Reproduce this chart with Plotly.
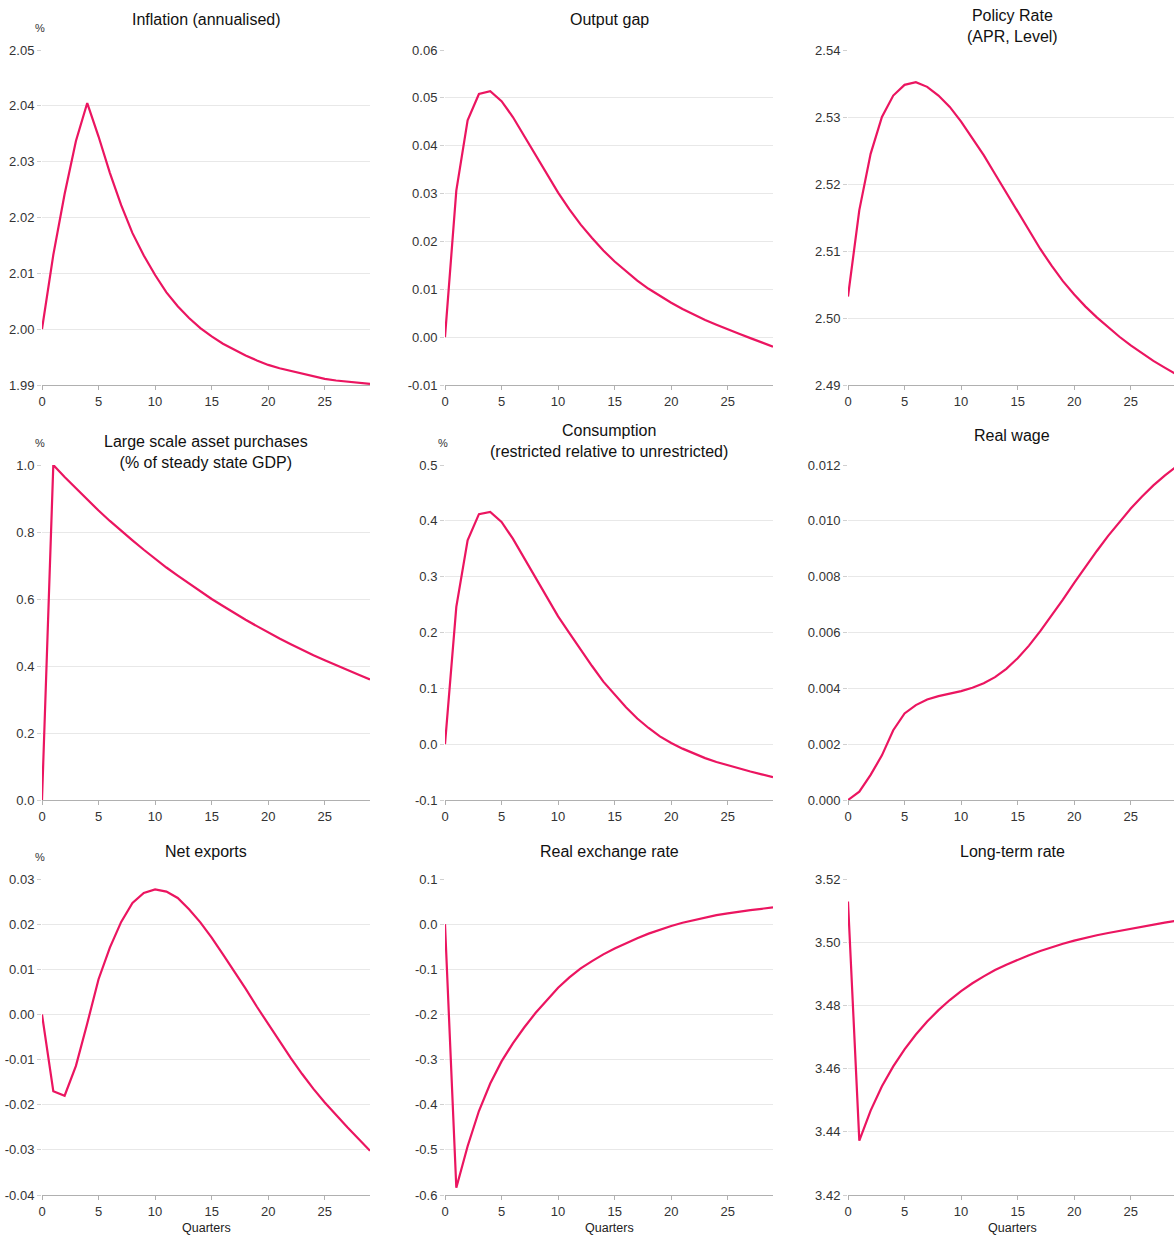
import plotly.graph_objects as go

# ---------------- data ----------------
quarters = list(range(30))

inflation = [2.0000, 2.0133, 2.0242, 2.0337, 2.0405, 2.0345, 2.0280, 2.0222, 2.0172, 2.0132,
             2.0097, 2.0066, 2.0041, 2.0020, 2.0002, 1.9987, 1.9974, 1.9963, 1.9953, 1.9944,
             1.9936, 1.9930, 1.9925, 1.9920, 1.9915, 1.9911, 1.9908, 1.9906, 1.9904, 1.9902]

output_gap = [0.0000, 0.0306, 0.0453, 0.0508, 0.0514, 0.0493, 0.0460, 0.0420, 0.0380, 0.0340,
              0.0302, 0.0267, 0.0235, 0.0207, 0.0181, 0.0158, 0.0137, 0.0118, 0.0101, 0.0086,
              0.0072, 0.0059, 0.0047, 0.0036, 0.0026, 0.0016, 0.0007, -0.0002, -0.0011, -0.0020]

policy_rate = [2.5032, 2.5161, 2.5245, 2.5300, 2.5332, 2.5348, 2.5352, 2.5345, 2.5332, 2.5315,
               2.5293, 2.5268, 2.5243, 2.5215, 2.5187, 2.5158, 2.5130, 2.5103, 2.5078, 2.5055,
               2.5035, 2.5017, 2.5001, 2.4986, 2.4972, 2.4959, 2.4947, 2.4936, 2.4926, 2.4916]

lsap = [0.000, 1.000, 0.964, 0.930, 0.896, 0.864, 0.833, 0.803, 0.775, 0.747,
        0.720, 0.694, 0.670, 0.646, 0.622, 0.600, 0.579, 0.558, 0.538, 0.519,
        0.500, 0.482, 0.465, 0.448, 0.432, 0.417, 0.402, 0.388, 0.374, 0.360]

consumption = [0.000, 0.246, 0.365, 0.412, 0.416, 0.398, 0.368, 0.333, 0.297, 0.262,
               0.229, 0.199, 0.169, 0.140, 0.112, 0.088, 0.066, 0.046, 0.029, 0.014,
               0.002, -0.008, -0.017, -0.025, -0.032, -0.038, -0.044, -0.049, -0.054, -0.059]

real_wage = [0.0000, 0.0003, 0.0009, 0.0016, 0.0025, 0.0031, 0.0034, 0.0036, 0.00372, 0.00380,
             0.00390, 0.00402, 0.00418, 0.00440, 0.00470, 0.00508, 0.00553, 0.00605, 0.00660, 0.00718,
             0.00778, 0.00836, 0.00892, 0.00946, 0.00997, 0.01044, 0.01087, 0.01127, 0.01162, 0.01193]

net_exports = [0.0000, -0.0170, -0.0180, -0.0114, -0.0020, 0.0078, 0.0148, 0.0205, 0.0247, 0.0269,
               0.0277, 0.0272, 0.0258, 0.0233, 0.0204, 0.0170, 0.0133, 0.0096, 0.0057, 0.0017,
               -0.0022, -0.0060, -0.0097, -0.0132, -0.0165, -0.0195, -0.0223, -0.0250, -0.0276, -0.0302]

real_exchange_rate = [0.000, -0.584, -0.492, -0.414, -0.353, -0.304, -0.264, -0.229, -0.197, -0.168,
                      -0.141, -0.118, -0.098, -0.082, -0.067, -0.054, -0.042, -0.031, -0.021, -0.012,
                      -0.004, 0.003, 0.009, 0.015, 0.020, 0.024, 0.028, 0.031, 0.034, 0.037]

long_term_rate = [3.5129, 3.4372, 3.4467, 3.4544, 3.4607, 3.4661, 3.4708, 3.4749, 3.4785, 3.4817,
                  3.4845, 3.4870, 3.4892, 3.4912, 3.4929, 3.4945, 3.4959, 3.4972, 3.4984, 3.4995,
                  3.5005, 3.5014, 3.5022, 3.5029, 3.5036, 3.5043, 3.5050, 3.5056, 3.5062, 3.5068]

titles = ["Inflation (annualised)", "Output gap", "Policy Rate<br>(APR, Level)",
          "Large scale asset purchases<br>(% of steady state GDP)",
          "Consumption<br>(restricted relative to unrestricted)", "Real wage",
          "Net exports", "Real exchange rate", "Long-term rate"]

x_ticks = ["0", "5", "10", "15", "20", "25"]

inflation_ticks = ["1.99", "2.00", "2.01", "2.02", "2.03", "2.04", "2.05"]
output_gap_ticks = ["-0.01", "0.00", "0.01", "0.02", "0.03", "0.04", "0.05", "0.06"]
policy_rate_ticks = ["2.49", "2.50", "2.51", "2.52", "2.53", "2.54"]
lsap_ticks = ["0.0", "0.2", "0.4", "0.6", "0.8", "1.0"]
consumption_ticks = ["-0.1", "0.0", "0.1", "0.2", "0.3", "0.4", "0.5"]
real_wage_ticks = ["0.000", "0.002", "0.004", "0.006", "0.008", "0.010", "0.012"]
net_exports_ticks = ["-0.04", "-0.03", "-0.02", "-0.01", "0.00", "0.01", "0.02", "0.03"]
real_exchange_rate_ticks = ["-0.6", "-0.5", "-0.4", "-0.3", "-0.2", "-0.1", "0.0", "0.1"]
long_term_rate_ticks = ["3.42", "3.44", "3.46", "3.48", "3.50", "3.52"]

series = [inflation, output_gap, policy_rate, lsap, consumption, real_wage,
          net_exports, real_exchange_rate, long_term_rate]
tick_sets = [inflation_ticks, output_gap_ticks, policy_rate_ticks, lsap_ticks, consumption_ticks,
             real_wage_ticks, net_exports_ticks, real_exchange_rate_ticks, long_term_rate_ticks]
pct_label = [True, False, False, True, True, False, True, False, False]

# ---------------- layout / style ----------------
W, H = 1174, 1238
col_px = [(42, 370), (445, 773), (848, 1174)]
row_px = [(50, 385), (465, 800), (879, 1195)]
title_y_px = [20, 20, 26, 452, 441, 435, 851, 851, 851]
LINE = "#EB1560"
FONT = "Arial, Liberation Sans, sans-serif"
TICK_SIZE = 13

fig = go.Figure()
annotations = []
layout = dict(width=W, height=H, margin=dict(l=0, r=0, t=0, b=0, pad=0, autoexpand=False),
              paper_bgcolor="white", plot_bgcolor="white", showlegend=False,
              template="none",
              font=dict(family=FONT, size=TICK_SIZE, color="#333333"))

for i in range(9):
    r, c = divmod(i, 3)
    x0, x1 = col_px[c]
    ytop, ybot = row_px[r]
    xmax = 29 * (x1 - x0) / 328.0
    ax = "" if i == 0 else str(i + 1)
    fig.add_trace(go.Scatter(x=quarters, y=series[i], mode="lines",
                             line=dict(color=LINE, width=2.2),
                             xaxis="x" + ax, yaxis="y" + ax, hoverinfo="x+y"))
    tv = [float(t) for t in tick_sets[i]]
    layout["xaxis" + ax] = dict(
        domain=[x0 / W, x1 / W], range=[0, xmax], anchor="y" + ax, automargin=False,
        tickvals=[float(t) for t in x_ticks], ticktext=x_ticks,
        showgrid=False, zeroline=False, showline=True, linecolor="#b0b0b0", linewidth=1,
        ticks="outside", ticklen=4, tickcolor="#b0b0b0",
        tickfont=dict(size=TICK_SIZE, color="#333333"), fixedrange=True)
    layout["yaxis" + ax] = dict(
        domain=[1 - ybot / H, 1 - ytop / H], range=[tv[0], tv[-1]], anchor="x" + ax,
        automargin=False,
        tickvals=tv, ticktext=tick_sets[i],
        showgrid=True, gridcolor="#e8e8e8", gridwidth=1, zeroline=False, showline=False,
        ticks="outside", ticklen=4, tickcolor="#d0d0d0",
        tickfont=dict(size=TICK_SIZE, color="#333333"), fixedrange=True)
    cx = (x0 + x0 + 328) / 2
    annotations.append(dict(text=titles[i], x=min(cx, W - 1) / W,
                            y=1 - title_y_px[i] / H, xref="paper", yref="paper",
                            xanchor="center", yanchor="middle", showarrow=False,
                            font=dict(size=16, color="#111111")))
    if pct_label[i]:
        annotations.append(dict(text="%", x=(x0 - 2) / W, y=1 - (ytop - 22) / H,
                                xref="paper", yref="paper", xanchor="center", yanchor="middle",
                                showarrow=False, font=dict(size=11, color="#333333")))
    if r == 2:
        annotations.append(dict(text="Quarters", x=cx / W,
                                y=1 - 1228 / H, xref="paper", yref="paper",
                                xanchor="center", yanchor="middle", showarrow=False,
                                font=dict(size=12.5, color="#222222")))

layout["annotations"] = annotations
fig.update_layout(**layout)
fig.write_html("out.html", config={"displayModeBar": False},
               post_script="document.body.style.margin='0px';document.body.style.padding='0px';"
                           "document.documentElement.style.overflow='hidden';")
